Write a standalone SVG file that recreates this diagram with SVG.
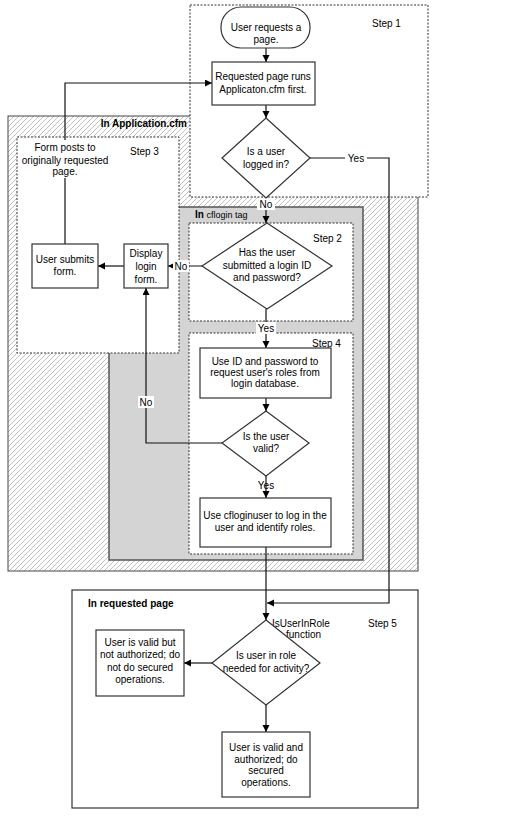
<svg xmlns="http://www.w3.org/2000/svg" width="513" height="818" viewBox="0 0 513 818">
<defs>
<pattern id="hatch" patternUnits="userSpaceOnUse" width="5" height="5">
<path d="M0,5 L5,0 M-1,1 L1,-1 M4,6 L6,4" stroke="#ababab" stroke-width="0.75"/>
</pattern>
<marker id="arr" markerUnits="userSpaceOnUse" markerWidth="8" markerHeight="8" refX="7" refY="3.5" orient="auto">
<path d="M0,0 L7,3.5 L0,7 z" fill="#000"/>
</marker>
</defs>
<style>
text{font-family:"Liberation Sans",Arial,sans-serif;font-size:10px;fill:#000}
.c{text-anchor:middle}
.b{font-weight:bold;font-size:10px}
.node{fill:#fff;stroke:#333;stroke-width:1.2}
.dot{fill:#fff;stroke:#333;stroke-width:1;stroke-dasharray:2,1.5}
.con{fill:none;stroke:#111;stroke-width:1.2}
.lbg{fill:#fff}
</style>
<rect width="513" height="818" fill="#fff"/>

<g id="app-region">
<rect x="8" y="116" width="410" height="455" fill="url(#hatch)" stroke="#444" stroke-width="1"/>
<text class="b" x="187" y="127" text-anchor="end">In Application.cfm</text>
</g>
<g id="step1-region">
<rect class="dot" x="190" y="5" width="238" height="192"/>
<text x="372" y="27">Step 1</text>
</g>
<g id="cflogin-region">
<rect x="109" y="207" width="254" height="353" fill="#d4d4d4" stroke="#555" stroke-width="1.5"/>
<text x="195" y="218"><tspan font-weight="bold">In</tspan><tspan font-size="9px"> cflogin tag</tspan></text>
</g>
<g id="step3-region">
<rect class="dot" x="17" y="137" width="162" height="216"/>
<text x="130" y="155">Step 3</text>
</g>
<g id="step2-region">
<rect class="dot" x="189" y="223" width="164" height="98"/>
<text x="313" y="242">Step 2</text>
</g>
<g id="step4-region">
<rect class="dot" x="189" y="333" width="164" height="221"/>
<text x="312" y="347">Step 4</text>
</g>
<g id="requested-region">
<rect x="72" y="590" width="346" height="218" fill="#fff" stroke="#333" stroke-width="1.2"/>
<text class="b" x="88" y="607">In requested page</text>
<text x="368" y="627">Step 5</text>
</g>

<g id="connectors">
<path class="con" d="M266,48 L266,62" marker-end="url(#arr)"/>
<path class="con" d="M266,105 L266,118" marker-end="url(#arr)"/>
<path class="con" d="M266,198 L266,223" marker-end="url(#arr)"/>
<path class="con" d="M310,158 L389,158 L389,603 L267,603" marker-end="url(#arr)"/>
<path class="con" d="M202,266 L168,266" marker-end="url(#arr)"/>
<path class="con" d="M124,266 L98,266" marker-end="url(#arr)"/>
<path class="con" d="M65,244 L65,83 L212,83" marker-end="url(#arr)"/>
<path class="con" d="M266,309 L266,348" marker-end="url(#arr)"/>
<path class="con" d="M266,398 L266,411" marker-end="url(#arr)"/>
<path class="con" d="M222,443 L146,443 L146,288" marker-end="url(#arr)"/>
<path class="con" d="M266,476 L266,498" marker-end="url(#arr)"/>
<path class="con" d="M266,547 L266,620" marker-end="url(#arr)"/>
<path class="con" d="M212,663 L184,663" marker-end="url(#arr)"/>
<path class="con" d="M266,705 L266,732" marker-end="url(#arr)"/>
<rect class="lbg" x="257" y="198" width="18" height="12"/>
<text class="c" x="266" y="208">No</text>
<rect class="lbg" x="345" y="152" width="22" height="12"/>
<text class="c" x="356" y="162">Yes</text>
<rect class="lbg" x="173" y="260" width="16" height="12"/>
<text class="c" x="181" y="270">No</text>
<rect class="lbg" x="20" y="140" width="90" height="38"/>
<text class="c" x="65" y="151">Form posts to</text>
<text class="c" x="65" y="164">originally requested</text>
<text class="c" x="65" y="175">page.</text>
<rect class="lbg" x="256" y="322" width="20" height="12"/>
<text class="c" x="266" y="332">Yes</text>
<rect class="lbg" x="138" y="396" width="16" height="12"/>
<text class="c" x="146" y="406">No</text>
<text class="c" x="266" y="489">Yes</text>
<text x="272" y="627">IsUserInRole</text>
<text x="286" y="638">function</text>
</g>

<g id="n-user-requests">
<rect class="node" x="221" y="7" width="89" height="41" rx="20" ry="20"/>
<text class="c" x="266" y="31">User requests a</text>
<text class="c" x="266" y="43">page.</text>
</g>
<g id="n-runs-app">
<rect class="node" x="212" y="62" width="103" height="43"/>
<text class="c" x="263" y="80">Requested page runs</text>
<text class="c" x="263" y="93">Applicaton.cfm first.</text>
</g>
<g id="n-logged-in">
<polygon class="node" points="266,118 310,158 266,198 222,158"/>
<text class="c" x="266" y="155">Is a user</text>
<text class="c" x="266" y="168">logged in?</text>
</g>
<g id="n-submitted">
<polygon class="node" points="267,223 332,266 267,309 202,266"/>
<text class="c" x="267" y="256">Has the user</text>
<text class="c" x="267" y="269">submitted a login ID</text>
<text class="c" x="267" y="281">and password?</text>
</g>
<g id="n-display-login">
<rect class="node" x="124" y="244" width="44" height="44"/>
<text class="c" x="146" y="257">Display</text>
<text class="c" x="146" y="270">login</text>
<text class="c" x="146" y="283">form.</text>
</g>
<g id="n-user-submits">
<rect class="node" x="32" y="244" width="66" height="44"/>
<text class="c" x="65" y="263">User submits</text>
<text class="c" x="65" y="275">form.</text>
</g>
<g id="n-request-roles">
<rect class="node" x="200" y="348" width="131" height="50"/>
<text class="c" x="265" y="365">Use ID and password to</text>
<text class="c" x="265" y="376">request user's roles from</text>
<text class="c" x="265" y="387">login database.</text>
</g>
<g id="n-valid">
<polygon class="node" points="266,411 309,443 266,476 222,443"/>
<text class="c" x="266" y="440">Is the user</text>
<text class="c" x="266" y="452">valid?</text>
</g>
<g id="n-cfloginuser">
<rect class="node" x="200" y="498" width="131" height="49"/>
<text class="c" x="265" y="519">Use cfloginuser to log in the</text>
<text class="c" x="265" y="531">user and identify roles.</text>
</g>
<g id="n-in-role">
<polygon class="node" points="266,620 320,663 266,705 212,663"/>
<text class="c" x="266" y="659">Is user in role</text>
<text class="c" x="266" y="672">needed for activity?</text>
</g>
<g id="n-not-authorized">
<rect class="node" x="96" y="630" width="88" height="66"/>
<text class="c" x="140" y="646">User is valid but</text>
<text class="c" x="140" y="658">not authorized; do</text>
<text class="c" x="140" y="671">not do secured</text>
<text class="c" x="140" y="683">operations.</text>
</g>
<g id="n-authorized">
<rect class="node" x="222" y="732" width="88" height="65"/>
<text class="c" x="266" y="751">User is valid and</text>
<text class="c" x="266" y="763">authorized; do</text>
<text class="c" x="266" y="774">secured</text>
<text class="c" x="266" y="786">operations.</text>
</g>
</svg>
